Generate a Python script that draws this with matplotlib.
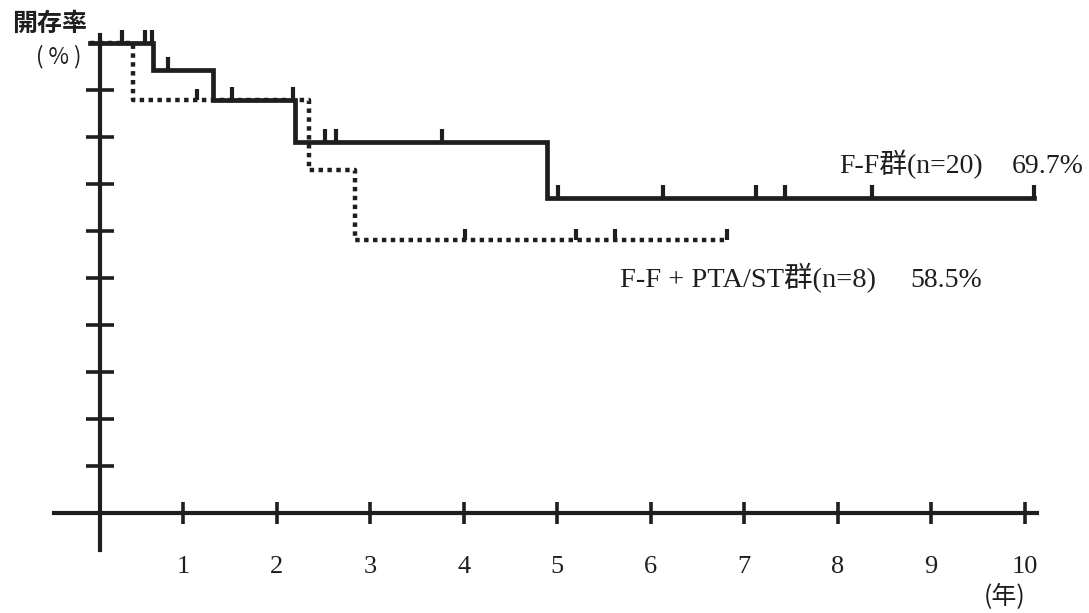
import matplotlib
matplotlib.use('Agg')
import matplotlib.pyplot as plt
import numpy as np

# Kaplan-Meier style patency curves (years, %)
ff_event_years = [0.68, 1.32, 2.20, 4.89]
ff_surv = [94.3, 87.9, 79.0, 67.0]
ff_end = 10.1
ff_censor = [0.35, 0.59, 0.67, 0.84, 1.52, 2.18, 2.52, 2.64, 3.77, 5.01, 6.13, 7.13, 7.44, 8.37, 10.1]

pta_event_years = [0.46, 2.35, 2.84]
pta_surv = [87.9, 73.0, 58.1]
pta_end = 6.82
pta_censor = [1.15, 4.02, 5.20, 5.62, 6.82]

x_ticks = [1, 2, 3, 4, 5, 6, 7, 8, 9, 10]
y_ticks = [10, 20, 30, 40, 50, 60, 70, 80, 90]

ff_name, ff_rate = 'F-F群(n=20)', '69.7%'
pta_name, pta_rate = 'F-F + PTA/ST群(n=8)', '58.5%'

INK = '#1e1e1e'
SERIF = ['Liberation Serif', 'Noto Sans CJK JP']
GOTHIC = ['Noto Sans CJK JP']

W, H = 1089, 613
fig = plt.figure(figsize=(W / 100, H / 100), dpi=100)
ax = fig.add_axes([0, 0, 1, 1])
ax.set_xlim(-0.958, 10.689)
ax.set_ylim(-21.28, 109.15)
ax.patch.set_alpha(0)


def step_xy(events, surv, end):
    xs = np.r_[0.0, events, end]
    ys = np.r_[100.0, surv, surv[-1]]
    return xs, ys


def level_at(events, surv, t):
    idx = np.searchsorted(events, t, side='right')
    return np.r_[100.0, surv][idx]


# dotted group first, solid on top
xs, ys = step_xy(pta_event_years, pta_surv, pta_end)
ax.step(xs, ys, where='post', color=INK, lw=3.2, linestyle=(0, (1, 1)),
        dash_capstyle='butt')
lv = level_at(pta_event_years, pta_surv, np.array(pta_censor))
ax.vlines(pta_censor, lv, lv + 2.4, color=INK, lw=3.0)

xs, ys = step_xy(ff_event_years, ff_surv, ff_end)
ax.step(xs, ys, where='post', color=INK, lw=3.4, solid_joinstyle='miter')
lv = level_at(ff_event_years, ff_surv, np.array(ff_censor))
ax.vlines(ff_censor, lv, lv + 2.8, color=INK, lw=3.0)

# axes drawn as crossing lines
for s in ['top', 'right']:
    ax.spines[s].set_visible(False)
ax.spines['left'].set_position(('data', 0.11))
ax.spines['left'].set_bounds(-7.9, 101.7)
ax.spines['bottom'].set_position(('data', 0))
ax.spines['bottom'].set_bounds(-0.38, 10.13)
for s in ['left', 'bottom']:
    ax.spines[s].set_linewidth(3.0)
    ax.spines[s].set_color(INK)

ax.set_xticks(x_ticks)
ax.set_xticklabels([str(v) for v in x_ticks], family=SERIF, fontsize=19)
ax.tick_params(axis='x', direction='inout', length=16, width=2.6,
               color=INK, pad=23, labelcolor=INK)
ax.set_yticks(y_ticks)
ax.set_yticklabels([])
ax.tick_params(axis='y', direction='inout', length=20, width=2.6, color=INK)

fig.text(12 / W, 1 - 24 / H, '開存率', family=GOTHIC, fontsize=18,
         fontweight='bold', color=INK, ha='left', va='center')
fig.text(36 / W, 1 - 57 / H, '( % )', family=GOTHIC, fontsize=16,
         color=INK, ha='left', va='center')
fig.text(1005 / W, 1 - 597 / H, '(年)', family=GOTHIC, fontsize=18,
         color=INK, ha='center', va='center')

fig.text(839 / W, 1 - 173 / H, ff_name, family=SERIF, fontsize=20,
         color=INK, ha='left', va='baseline')
fig.text(1012 / W, 1 - 173 / H, ff_rate, family=SERIF, fontsize=20,
         color=INK, ha='left', va='baseline')
fig.text(620 / W, 1 - 287 / H, pta_name, family=SERIF, fontsize=20.5,
         color=INK, ha='left', va='baseline')
fig.text(910 / W, 1 - 287 / H, pta_rate, family=SERIF, fontsize=20,
         color=INK, ha='left', va='baseline')

fig.savefig('out.png', dpi=100, facecolor='white')
